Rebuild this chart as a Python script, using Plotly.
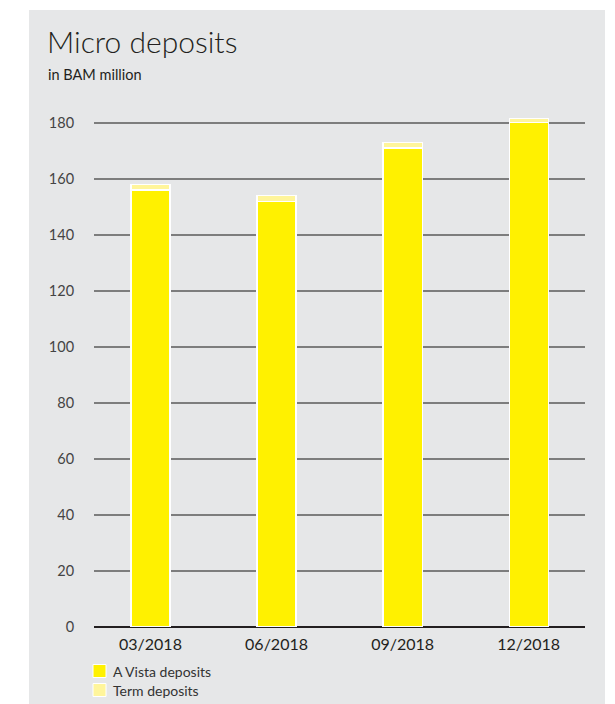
import plotly.graph_objects as go

# Micro deposits by quarter, BAM million
periods = ["03/2018", "06/2018", "09/2018", "12/2018"]
a_vista = [156, 152, 171, 180]
term = [2, 2, 2, 1.5]
y_ticks = [0, 20, 40, 60, 80, 100, 120, 140, 160, 180]
series_names = ["A Vista deposits", "Term deposits"]
series_colors = ["#fff100", "#fff59b"]

W, H = 615, 704
ML, MR, MT, MB = 94, 30, 106, 77
pw = W - ML - MR
ph = H - MT - MB

def px_x(x):
    return (x - ML) / pw

def px_y(y):
    return (H - MB - y) / ph

FONT = "Lato"
INK = "#231f20"

fig = go.Figure()
for vals, name, color in zip([a_vista, term], series_names, series_colors):
    fig.add_trace(go.Bar(
        x=periods, y=vals, name=name,
        marker=dict(color=color, line=dict(color="white", width=1.2)),
    ))

shapes = [dict(
    type="rect", xref="paper", yref="paper", layer="below",
    x0=px_x(29), x1=px_x(605), y0=px_y(704), y1=px_y(10),
    fillcolor="#e6e7e8", line=dict(width=0),
)]
annotations = [
    dict(text="Micro deposits", xref="paper", yref="paper",
         x=px_x(45), y=px_y(61), xanchor="left", yanchor="bottom",
         showarrow=False,
         font=dict(family=FONT, size=30, color=INK, weight=300)),
    dict(text="in BAM million", xref="paper", yref="paper",
         x=px_x(46), y=px_y(85), xanchor="left", yanchor="bottom",
         showarrow=False, font=dict(family=FONT, size=14.5, color=INK)),
]

# Legend below the axis: swatch plus label per series
for i, (name, color) in enumerate(zip(series_names, series_colors)):
    cy = 671 + i * 19
    shapes.append(dict(
        type="rect", xref="paper", yref="paper",
        x0=px_x(93), x1=px_x(106), y0=px_y(cy + 6.5), y1=px_y(cy - 6.5),
        fillcolor=color, line=dict(color="white", width=1),
    ))
    annotations.append(dict(
        text=name, xref="paper", yref="paper",
        x=px_x(111), y=px_y(cy), xanchor="left", yanchor="middle",
        showarrow=False, font=dict(family=FONT, size=14, color="#333333"),
    ))

fig.update_layout(
    width=W, height=H,
    margin=dict(l=ML, r=MR, t=MT, b=MB, autoexpand=False),
    barmode="stack",
    bargap=0.69,
    paper_bgcolor="white",
    plot_bgcolor="rgba(0,0,0,0)",
    font=dict(family=FONT, color="#333333"),
    showlegend=False,
    shapes=shapes,
    annotations=annotations,
)

fig.update_xaxes(
    range=[-0.448, 3.447],
    showgrid=False,
    showline=False,
    ticks="outside", ticklen=3, tickcolor="rgba(0,0,0,0)",
    tickfont=dict(size=16, color=INK),
)
fig.update_yaxes(
    range=[0, 186],
    tickvals=y_ticks,
    showgrid=True, gridcolor="#7d7d7d", gridwidth=1.5,
    zeroline=True, zerolinecolor=INK, zerolinewidth=2.2,
    showline=False,
    ticks="outside", ticklen=16, tickcolor="rgba(0,0,0,0)",
    tickfont=dict(size=14.5, color="#444444"),
)

fig.write_html("out.html")
